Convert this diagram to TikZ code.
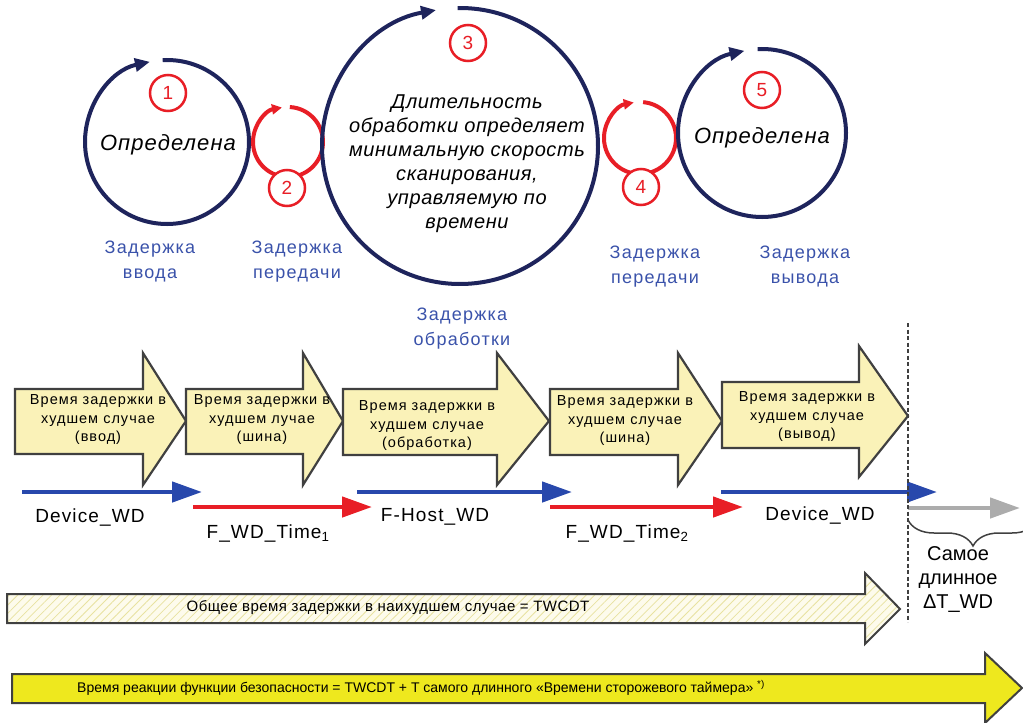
\documentclass[tikz,border=0pt]{standalone}
\usepackage{fontspec}
\setmainfont{Liberation Sans}
\usetikzlibrary{positioning,arrows.meta,decorations.pathreplacing,patterns.meta}
\definecolor{LoopNavy}{RGB}{30,36,92}
\definecolor{LoopRed}{RGB}{232,30,38}
\definecolor{PhaseBlue}{RGB}{58,82,170}
\definecolor{LineBlue}{RGB}{40,72,172}
\definecolor{BoxYellow}{RGB}{250,242,184}
\definecolor{BoxEdge}{RGB}{64,64,64}
\definecolor{BarYellow}{RGB}{238,232,30}
\definecolor{BarCream}{RGB}{253,251,236}
\definecolor{HatchYellow}{RGB}{232,226,160}
\definecolor{TailGray}{RGB}{172,172,172}

\begin{document}
\begin{tikzpicture}[
x=1pt,y=-1pt,
bigarc/.style={line width=4pt,draw=LoopNavy,-{Triangle[length=15pt,width=13pt]}},
smallarc/.style={line width=4pt,draw=LoopRed,-{Triangle[length=10pt,width=10pt]}},
badge/.style={circle,draw=LoopRed,line width=2.5pt,fill=white,minimum size=36pt,
inner sep=0pt,text=LoopRed,font=\fontsize{19}{19}\selectfont},
looptext/.style={align=center,font=\fontsize{20}{24}\selectfont\itshape\addfontfeature{LetterSpace=3}},
deftext/.style={font=\fontsize{22}{24}\selectfont\itshape\addfontfeature{LetterSpace=5}},
phase/.style={align=center,text=PhaseBlue,font=\fontsize{18}{25}\selectfont\addfontfeature{LetterSpace=7}},
delaybox/.style={draw=BoxEdge,line width=2.2pt,fill=BoxYellow},
boxtext/.style={align=center,font=\fontsize{14.5}{18.5}\selectfont\addfontfeature{LetterSpace=7}},
wd/.style={line width=4.5pt,-{Triangle[length=30pt,width=20pt]}},
wdlabel/.style={font=\fontsize{19}{19}\selectfont\addfontfeature{LetterSpace=6}},
cutline/.style={draw=BoxEdge,line width=2pt,dash pattern=on 4pt off 2.5pt},
span/.style={decorate,decoration={brace,amplitude=26pt},draw=BoxEdge,line width=1.5pt},
sidetext/.style={align=center,font=\fontsize{20}{24}\selectfont},
bar/.style={draw=BoxEdge,line width=2pt},
bartext/.style={font=\fontsize{15}{15}\selectfont\addfontfeature{LetterSpace=3}}
]
\useasboundingbox (0,0) rectangle (1023,723);

% loops
\coordinate (c1) at (167,142);
\coordinate (c2) at (288,142);
\coordinate (c3) at (460,146);
\coordinate (c4) at (640,138);
\coordinate (c5) at (762,133);
\draw[bigarc] ([shift={(-93:82)}]c1) arc[start angle=-93,end angle=258,radius=82];
\draw[smallarc] ([shift={(-87:35)}]c2) arc[start angle=-87,end angle=260,radius=35];
\draw[bigarc] ([shift={(-91:138)}]c3) arc[start angle=-91,end angle=260,radius=138];
\draw[smallarc] ([shift={(-85:36)}]c4) arc[start angle=-85,end angle=260,radius=36];
\draw[bigarc] ([shift={(-93:84)}]c5) arc[start angle=-93,end angle=258,radius=84];

\node[deftext] (t1) at (168,145) {Определена};
\node[looptext] (t3) at (467,164) {Длительность\\обработки определяет\\минимальную скорость\\сканирования,\\управляемую по\\времени};
\node[deftext] (t5) at (762,138) {Определена};
\node[badge] (b1) at (168,93) {1};
\node[badge] (b2) at (287,188) {2};
\node[badge] (b3) at (468,43) {3};
\node[badge] (b4) at (641,187) {4};
\node[badge] (b5) at (762,90) {5};

\node[phase] (p1) at (150,262) {Задержка\\ввода};
\node[phase] (p2) at (297,262) {Задержка\\передачи};
\node[phase] (p3) at (462,329) {Задержка\\обработки};
\node[phase] (p4) at (655,267) {Задержка\\передачи};
\node[phase] (p5) at (805,267) {Задержка\\вывода};

% worst case delays
\draw[delaybox] (15,389) -- (143,389) -- (143,353) -- (186,421) -- (143,485) -- (143,454) -- (15,454) -- cycle;
\draw[delaybox] (186,389) -- (303,389) -- (303,353) -- (343,421) -- (303,485) -- (303,454) -- (186,454) -- cycle;
\draw[delaybox] (343,389) -- (497,389) -- (497,353) -- (549,421) -- (497,485) -- (497,455) -- (343,455) -- cycle;
\draw[delaybox] (550,389) -- (678,389) -- (678,353) -- (722,421) -- (678,485) -- (678,455) -- (550,455) -- cycle;
\draw[delaybox] (722,382) -- (859,382) -- (859,346) -- (908,416) -- (859,477) -- (859,448) -- (722,448) -- cycle;
\node[boxtext] (d1) at (98,420) {Время задержки в\\худшем случае\\(ввод)};
\node[boxtext] (d2) at (262,420) {Время задержки в\\худшем лучае\\(шина)};
\node[boxtext] (d3) at (427,426) {Время задержки в\\худшем случае\\(обработка)};
\node[boxtext] (d4) at (625,421) {Время задержки в\\худшем случае\\(шина)};
\node[boxtext] (d5) at (807,417) {Время задержки в\\худшем случае\\(вывод)};

% watchdog times
\draw[wd,LineBlue] (22,492) -- (202,492);
\draw[wd,LoopRed] (193,507) -- (372,507);
\draw[wd,LineBlue] (357,492) -- (572,492);
\draw[wd,LoopRed] (550,507) -- (743,507);
\draw[wd,LineBlue] (721,492) -- (937,492);
\draw[wd,TailGray] (908,508) -- (1020,508);
\node[wdlabel] (l1) at (90,517) {Device\_WD};
\node[wdlabel] (l2) at (268,533) {F\_WD\_Time\textsubscript{1}};
\node[wdlabel] (l3) at (435,517) {F-Host\_WD};
\node[wdlabel] (l4) at (627,533) {F\_WD\_Time\textsubscript{2}};
\node[wdlabel] (l5) at (820,515) {Device\_WD};

\draw[cutline] (908,323) -- (908,622);
\draw[span] (1038,520) -- (908,520);
\node[sidetext] (dt) at (958,579) {Самое\\длинное\\ΔT\_WD};

% totals
\draw[bar,preaction={fill=BarCream},pattern={Lines[angle=45,distance=6pt,line width=0.8pt]},pattern color=HatchYellow]
(7,594) -- (865,594) -- (865,573) -- (900,609) -- (865,644) -- (865,623) -- (7,623) -- cycle;
\node[bartext] (tw) at (388,608) {Общее время задержки в наихудшем случае = TWCDT};
\draw[bar,fill=BarYellow] (12,674) -- (985,674) -- (985,653) -- (1022,688) -- (985,723) -- (985,703) -- (12,703) -- cycle;
\node[bartext,font=\fontsize{14}{14}\selectfont] (sr) at (421,688) {Время реакции функции безопасности = TWCDT + T самого длинного «Времени сторожевого таймера» \textsuperscript{*)}};
\end{tikzpicture}
\end{document}
